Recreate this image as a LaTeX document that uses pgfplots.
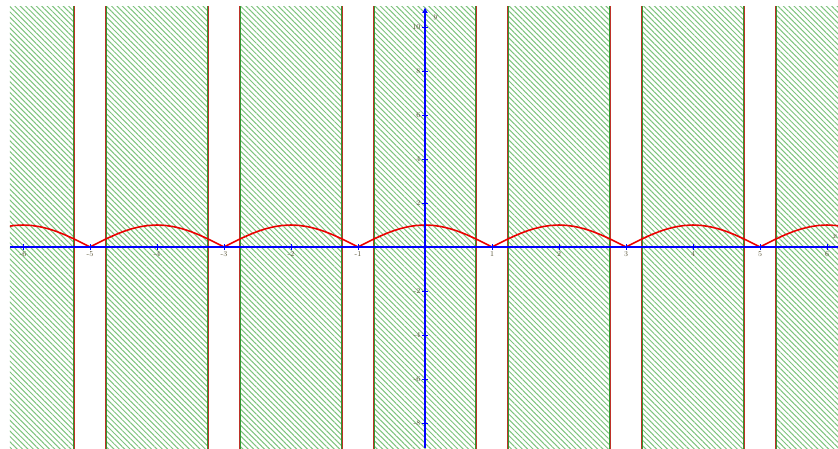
\documentclass[border=0pt]{standalone}
\usepackage{pgfplots}
\pgfplotsset{compat=1.18}
\usetikzlibrary{patterns.meta,arrows.meta}
\definecolor{hatch}{RGB}{125,195,125}
\definecolor{bgreen}{RGB}{50,150,50}
\definecolor{bred}{RGB}{190,50,40}
\definecolor{curve}{RGB}{235,0,0}
\definecolor{labc}{RGB}{85,80,50}
\begin{document}
\begin{tikzpicture}
\begin{axis}[
  scale only axis,
  width=828pt, height=441pt,
  xmin=-6.194, xmax=6.164,
  ymin=-9.136, ymax=10.91,
  axis lines=middle,
  axis on top,
  axis line style={blue, line width=1.2pt},
  x axis line style={-},
  y axis line style={-{Latex[length=6pt,width=6pt]}},
  xtick={-6,-5,-4,-3,-2,-1,1,2,3,4,5,6},
  ytick={-8,-6,-4,-2,2,4,6,8,10},
  xticklabels={-6,-5,-4,-3,-2,-1,1,2,3,4,5,6},
  yticklabels={-8,-6,-4,-2,2,4,6,8,10},
  major tick length=6pt,
  tick style={blue, line width=0.6pt},
  tick label style={font=\fontsize{7.5}{9}\selectfont, text=labc},
  xticklabel style={inner sep=1.5pt},
  yticklabel style={inner sep=1.5pt},
  clip=true,
]
% hatched strips
\addplot[draw=none, pattern={Lines[angle=-45,distance=3.8pt,line width=1pt]}, pattern color=hatch] coordinates {(-6.194,-9.2)(-5.25,-9.2)(-5.25,11)(-6.194,11)} -- cycle;
\addplot[draw=none, pattern={Lines[angle=-45,distance=3.8pt,line width=1pt]}, pattern color=hatch] coordinates {(-4.75,-9.2)(-3.25,-9.2)(-3.25,11)(-4.75,11)} -- cycle;
\addplot[draw=none, pattern={Lines[angle=-45,distance=3.8pt,line width=1pt]}, pattern color=hatch] coordinates {(-2.75,-9.2)(-1.25,-9.2)(-1.25,11)(-2.75,11)} -- cycle;
\addplot[draw=none, pattern={Lines[angle=-45,distance=3.8pt,line width=1pt]}, pattern color=hatch] coordinates {(-0.75,-9.2)(0.75,-9.2)(0.75,11)(-0.75,11)} -- cycle;
\addplot[draw=none, pattern={Lines[angle=-45,distance=3.8pt,line width=1pt]}, pattern color=hatch] coordinates {(1.25,-9.2)(2.75,-9.2)(2.75,11)(1.25,11)} -- cycle;
\addplot[draw=none, pattern={Lines[angle=-45,distance=3.8pt,line width=1pt]}, pattern color=hatch] coordinates {(3.25,-9.2)(4.75,-9.2)(4.75,11)(3.25,11)} -- cycle;
\addplot[draw=none, pattern={Lines[angle=-45,distance=3.8pt,line width=1pt]}, pattern color=hatch] coordinates {(5.25,-9.2)(6.164,-9.2)(6.164,11)(5.25,11)} -- cycle;
% boundary lines
\pgfplotsinvokeforeach{-5.235,-4.765,-3.235,-2.765,-1.235,-0.765,0.765,1.235,2.765,3.235,4.765,5.235}{
  \addplot[bred, line width=0.7pt] coordinates {(#1,-9.2)(#1,11)};
}
\pgfplotsinvokeforeach{-5.25,-4.75,-3.25,-2.75,-1.25,-0.75,0.75,1.25,2.75,3.25,4.75,5.25}{
  \addplot[bgreen, line width=0.7pt] coordinates {(#1,-9.2)(#1,11)};
}
% curve
\addplot[curve, line width=1.6pt] table {
x y
-6.25 0.92388
-6.125 0.98079
-6 1
-5.875 0.98079
-5.75 0.92388
-5.625 0.83147
-5.5 0.70711
-5.375 0.55557
-5.25 0.38268
-5.125 0.19509
-5 0
-4.875 0.19509
-4.75 0.38268
-4.625 0.55557
-4.5 0.70711
-4.375 0.83147
-4.25 0.92388
-4.125 0.98079
-4 1
-3.875 0.98079
-3.75 0.92388
-3.625 0.83147
-3.5 0.70711
-3.375 0.55557
-3.25 0.38268
-3.125 0.19509
-3 0
-2.875 0.19509
-2.75 0.38268
-2.625 0.55557
-2.5 0.70711
-2.375 0.83147
-2.25 0.92388
-2.125 0.98079
-2 1
-1.875 0.98079
-1.75 0.92388
-1.625 0.83147
-1.5 0.70711
-1.375 0.55557
-1.25 0.38268
-1.125 0.19509
-1 0
-0.875 0.19509
-0.75 0.38268
-0.625 0.55557
-0.5 0.70711
-0.375 0.83147
-0.25 0.92388
-0.125 0.98079
0 1
0.125 0.98079
0.25 0.92388
0.375 0.83147
0.5 0.70711
0.625 0.55557
0.75 0.38268
0.875 0.19509
1 0
1.125 0.19509
1.25 0.38268
1.375 0.55557
1.5 0.70711
1.625 0.83147
1.75 0.92388
1.875 0.98079
2 1
2.125 0.98079
2.25 0.92388
2.375 0.83147
2.5 0.70711
2.625 0.55557
2.75 0.38268
2.875 0.19509
3 0
3.125 0.19509
3.25 0.38268
3.375 0.55557
3.5 0.70711
3.625 0.83147
3.75 0.92388
3.875 0.98079
4 1
4.125 0.98079
4.25 0.92388
4.375 0.83147
4.5 0.70711
4.625 0.55557
4.75 0.38268
4.875 0.19509
5 0
5.125 0.19509
5.25 0.38268
5.375 0.55557
5.5 0.70711
5.625 0.83147
5.75 0.92388
5.875 0.98079
6 1
6.125 0.98079
6.25 0.92388
};
\node[text=labc, font=\fontsize{8.5}{10}\selectfont\bfseries] at (axis cs:6.12,0.45) {$x$};
\node[text=labc, font=\fontsize{8.5}{10}\selectfont\bfseries] at (axis cs:0.16,10.45) {$y$};
\end{axis}
\pgfresetboundingbox
\useasboundingbox ([xshift=-10pt]current axis.south west) rectangle ([yshift=7pt]current axis.north east);
\end{tikzpicture}
\end{document}
